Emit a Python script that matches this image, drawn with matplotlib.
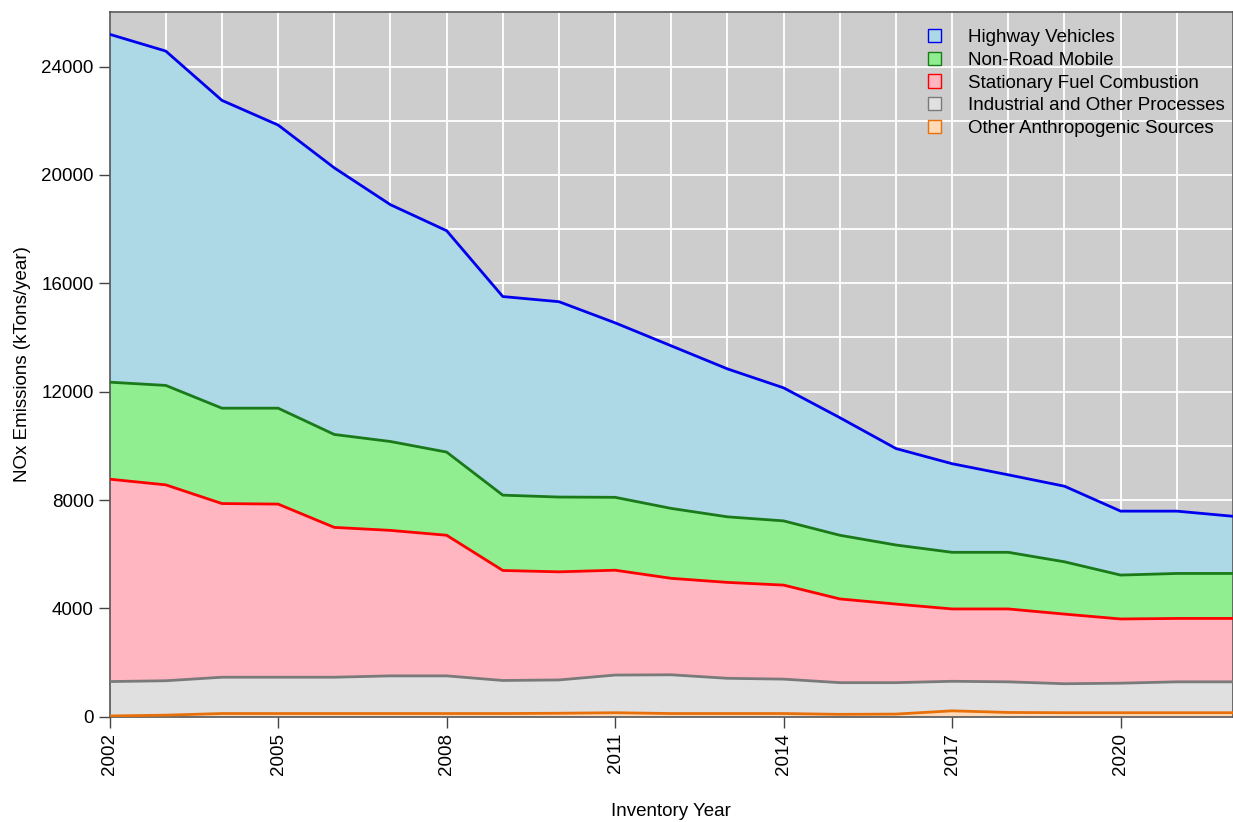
import matplotlib.pyplot as plt
import matplotlib.patches as mpatches
from matplotlib.ticker import MultipleLocator
import numpy as np

plt.rcParams['font.family'] = ['Liberation Sans', 'DejaVu Sans']

years = np.arange(2002, 2023)
tick_years = np.arange(2002, 2021, 3)

# NOx emissions by sector (kTons/year)
other_anthro = [30, 60, 120, 120, 120, 120, 120, 120, 130, 150, 120,
                120, 120, 90, 100, 220, 160, 150, 150, 150, 150]
industrial = [1270, 1270, 1340, 1340, 1340, 1390, 1390, 1220, 1230, 1390, 1430,
              1300, 1270, 1170, 1160, 1090, 1130, 1070, 1090, 1140, 1140]
stationary = [7470, 7230, 6410, 6390, 5530, 5370, 5190, 4060, 3990, 3870, 3560,
              3540, 3470, 3090, 2900, 2670, 2690, 2570, 2370, 2340, 2340]
nonroad = [3580, 3670, 3520, 3540, 3430, 3280, 3070, 2780, 2760, 2690, 2580,
           2420, 2370, 2350, 2180, 2090, 2090, 1930, 1620, 1660, 1660]
highway = [12840, 12340, 11360, 10450, 9840, 8740, 8170, 7330, 7210, 6440, 6000,
           5460, 4910, 4340, 3560, 3270, 2860, 2790, 2360, 2300, 2110]

labels = ["Other Anthropogenic Sources", "Industrial and Other Processes",
          "Stationary Fuel Combustion", "Non-Road Mobile", "Highway Vehicles"]
fills = ["#ffdab9", "#e0e0e0", "#ffb6c1", "#90ee90", "#add8e6"]
edges = ["#e8700a", "#7a7a7a", "#ff0000", "#1a7a1a", "#0000ee"]

series = np.array([other_anthro, industrial, stationary, nonroad, highway])
tops = np.cumsum(series, axis=0)

fig = plt.figure(figsize=(12.33, 8.22), dpi=100)
ax = fig.add_axes([0.0889, 0.128, 0.9111, 0.857])
ax.set_facecolor("#cdcdcd")

ax.stackplot(years, series, colors=fills, linewidth=0, zorder=2)
for top, c in zip(tops, edges):
    ax.plot(years, top, color=c, lw=2, zorder=3)

ax.set_xlim(2002, 2022)
ax.set_ylim(0, 26000)
ax.set_xticks(tick_years)
ax.set_xticklabels([str(y) for y in tick_years], rotation=90)
ax.xaxis.set_minor_locator(MultipleLocator(1))
ax.yaxis.set_major_locator(MultipleLocator(4000))
ax.yaxis.set_minor_locator(MultipleLocator(2000))
ax.grid(which="both", color="white", lw=1.3, zorder=1)
ax.set_axisbelow(True)
ax.tick_params(which="minor", length=0)
ax.tick_params(which="major", length=8, width=1, color="#444444", labelsize=13.5)
for s in ax.spines.values():
    s.set_color("#555555")
    s.set_linewidth(1.2)

ax.set_xlabel("Inventory Year", fontsize=13.5, labelpad=20)
ax.set_ylabel("NOx Emissions (kTons/year)", fontsize=13.5, labelpad=7)

handles = [mpatches.Patch(facecolor=f, edgecolor=e, lw=1)
           for f, e in zip(fills[::-1], edges[::-1])]
ax.legend(handles, labels[::-1], loc="upper right", frameon=False, fontsize=13.5,
          labelspacing=0.3, handlelength=0.7, handleheight=0.7,
          handletextpad=1.4, borderaxespad=0, bbox_to_anchor=(0.999, 0.987))

fig.savefig("out.png", dpi=100)
